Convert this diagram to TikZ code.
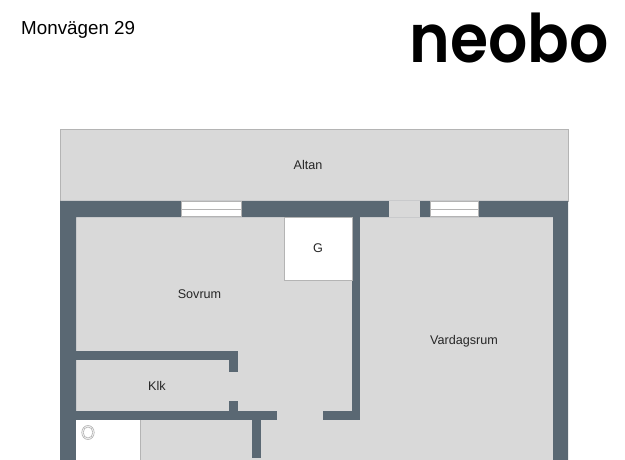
\documentclass[tikz,border=0pt]{standalone}
\usepackage{fontspec}
\setmainfont{Liberation Sans}
\newfontfamily\logofont{Poppins SemiBold}
\definecolor{wallcol}{HTML}{5A6873}
\definecolor{floorcol}{HTML}{D9D9D9}
\definecolor{edgecol}{HTML}{B4B4B4}
\tikzset{
  wall/.style={fill=wallcol,draw=none},
  room/.style={font=\fontsize{12.6}{14}\selectfont,text=black!85},
  fixture/.style={fill=white,draw=edgecol,line width=0.8pt}
}
\begin{document}
\begin{tikzpicture}[x=1pt,y=-1pt]
  \useasboundingbox (0,0) rectangle (625,460);
  % floor
  \fill [floorcol] (76,217) rectangle (553,460);
  \draw [fill=floorcol,draw=edgecol,line width=0.8pt] (60,129) rectangle (568,201);
  % outer walls
  \fill [wall] (60,460) -- (60,201) -- (568,201) -- (568,460) -- (553,460) -- (553,217) -- (76,217) -- (76,460) -- cycle;
  % inner walls
  \fill [wall] (352,217) rectangle (360,420);
  \fill [wall] (323,411) rectangle (360,420);
  \fill [wall] (76,351) rectangle (238,360);
  \fill [wall] (229,351) rectangle (238,372);
  \fill [wall] (229,401) rectangle (238,411);
  \fill [wall] (76,411) rectangle (277,420);
  \fill [wall] (252,420) rectangle (261,458);
  % door and windows
  \fill [floorcol] (389,201) rectangle (420,217);
  \draw [fixture] (181.5,201.5) rectangle (241,216.5);
  \draw [edgecol,line width=0.8pt] (181.5,209) -- (241,209);
  \draw [fixture] (430,201.5) rectangle (478,216.5);
  \draw [edgecol,line width=0.8pt] (430,209) -- (478,209);
  % fixtures
  \draw [fixture] (284,217) rectangle (352,280);
  \fill [white] (76,420) rectangle (140,460);
  \draw [edgecol,line width=0.8pt] (140,420) -- (140,460);
  \draw [edgecol,line width=0.7pt] (88,432.5) ellipse (6.2 and 7);
  \draw [edgecol,line width=0.7pt] (88,432.5) ellipse (4.8 and 5.6);
  % labels
  \node (address) [anchor=west,inner sep=0pt,font=\fontsize{18.8}{22}\selectfont] at (21,29.5) {Monvägen 29};
  \node (logo) [inner sep=0pt,xscale=0.92,font=\logofont\fontsize{67}{67}\selectfont] at (509,38) {neobo};
  \node (altan) [room] at (308,165) {Altan};
  \node (g) [room] at (318,248.5) {G};
  \node (sovrum) [room] at (199.5,294) {Sovrum};
  \node (vardagsrum) [room] at (464,341.5) {Vardagsrum};
  \node (klk) [room] at (157,385.5) {Klk};
\end{tikzpicture}
\end{document}
